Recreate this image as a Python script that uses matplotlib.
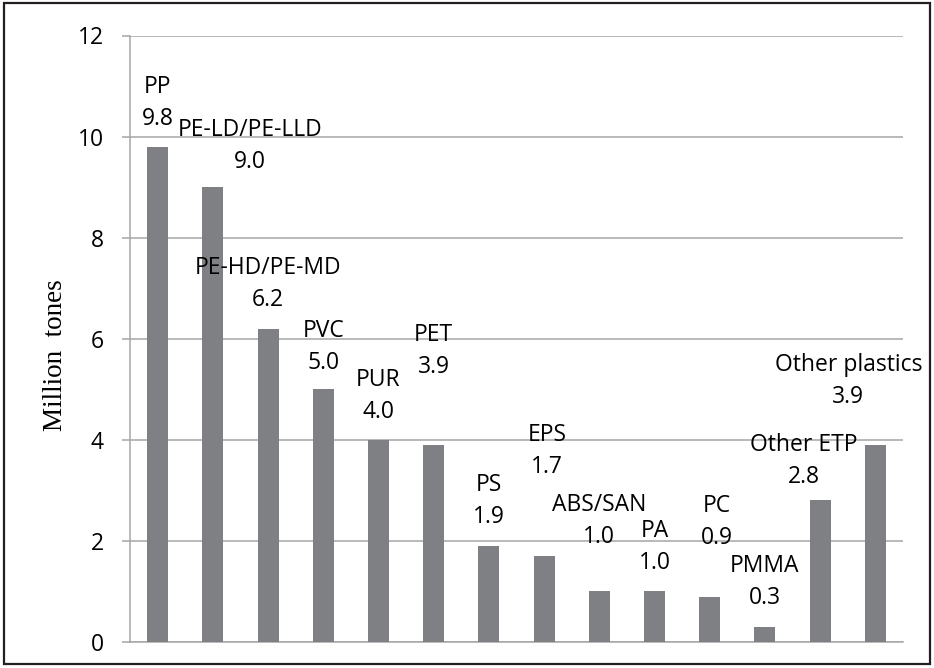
import numpy as np
import matplotlib.pyplot as plt
from matplotlib.patches import Rectangle

# Demand by polymer type
polymers = ['PP', 'PE-LD/PE-LLD', 'PE-HD/PE-MD', 'PVC', 'PUR', 'PET', 'PS', 'EPS',
            'ABS/SAN', 'PA', 'PC', 'PMMA', 'Other ETP', 'Other plastics']
demand = [9.8, 9.0, 6.2, 5.0, 4.0, 3.9, 1.9, 1.7, 1.0, 1.0, 0.9, 0.3, 2.8, 3.9]

# label placement: horizontal shift (in bar slots) and height of the value line
label_dx = [0, 0.67, 0, 0, 0, 0, 0, 0.05, 0, 0, 0.12, 0, -0.29, -0.49]
label_y = [10.34, 9.50, 6.77, 5.52, 4.55, 5.45, 2.48, 3.47, 2.08, 1.56, 2.06, 0.87, 3.27, 4.85]

plt.rcParams['font.family'] = ['Open Sans', 'DejaVu Sans']

fig = plt.figure(figsize=(9.34, 6.68), dpi=100)
ax = fig.add_axes([130 / 934, 26 / 668, 773 / 934, 606.5 / 668])

x = np.arange(len(polymers))
ax.bar(x, demand, width=0.38, color='#7f8083', zorder=3)

for i, (name, v) in enumerate(zip(polymers, demand)):
    xt = i + label_dx[i]
    ax.text(xt, label_y[i], f'{v:.1f}', ha='center', va='center', fontsize=16.5, zorder=4)
    ax.annotate(name, xy=(xt, label_y[i]), xytext=(0, 23), textcoords='offset points',
                ha='center', va='center', fontsize=16.5, zorder=4)

ax.set_xlim(-0.5, len(polymers) - 0.5)
ax.set_ylim(0, 12)
ax.set_yticks(range(0, 13, 2))
ax.set_xticks([])
ax.yaxis.grid(True, color='#a6a6a6', linewidth=1.1, zorder=0)
for side in ['top', 'right']:
    ax.spines[side].set_visible(False)
for side in ['left', 'bottom']:
    ax.spines[side].set_color('#a6a6a6')
    ax.spines[side].set_linewidth(1.1)
ax.tick_params(axis='y', length=6, width=1.1, color='#a6a6a6', pad=13, labelsize=16.5)

fig.text(56 / 934, 1 - 355 / 668, 'Million  tones', rotation=90, ha='center', va='center',
         fontsize=19.5, family='Liberation Serif')

# outer frame
fig.patches.append(Rectangle((4 / 934, 4 / 668), 926 / 934, 661 / 668, transform=fig.transFigure,
                             fill=False, edgecolor='#231f20', linewidth=1.6))

fig.savefig('out.png', dpi=100)
